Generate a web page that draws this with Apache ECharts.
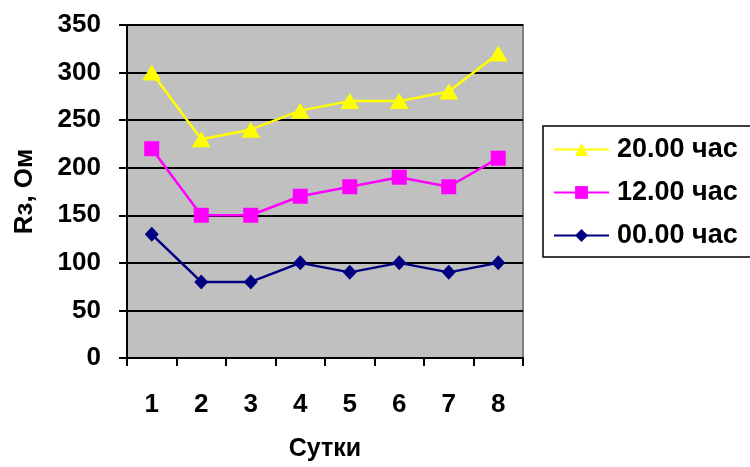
<!DOCTYPE html>
<html><head><meta charset="utf-8">
<script src="https://cdn.jsdelivr.net/npm/echarts@6/dist/echarts.min.js"></script>
<style>html,body{margin:0;padding:0;background:#fff}#c{width:750px;height:467px}</style>
</head><body><div id="c"></div>
<script>
const categories = ['1','2','3','4','5','6','7','8'];
const s20 = [300,230,240,260,270,270,280,320];
const s12 = [220,150,150,170,180,190,180,210];
const s00 = [130,80,80,100,90,100,90,100];
const seriesNames = ['20.00 час','12.00 час','00.00 час'];

const chart = echarts.init(document.getElementById('c'));
const font = 'Liberation Sans, Arial, sans-serif';
chart.setOption({
  animation:false,
  backgroundColor:'#fff',
  grid:{left:127,top:25,width:396,height:336,containLabel:false,show:true,backgroundColor:'#c0c0c0',borderColor:'#808080',borderWidth:2},
  legend:{
    orient:'vertical', left:543, top:126, width:300,
    padding:[10,40,8,10], itemGap:16,
    borderColor:'#000', borderWidth:1.5, backgroundColor:'#fff',
    itemWidth:55, itemHeight:16,
    textStyle:{fontFamily:font,fontWeight:'bold',fontSize:27,color:'#000',padding:[0,0,0,3]},
    data:seriesNames
  },
  xAxis:{
    type:'category', data:categories, boundaryGap:true,
    name:'Сутки', nameLocation:'middle', nameGap:79,
    nameTextStyle:{fontFamily:font,fontWeight:'bold',fontSize:25,color:'#000'},
    axisLine:{lineStyle:{color:'#000',width:2}},
    axisTick:{show:true,length:8,lineStyle:{color:'#000',width:2}},
    axisLabel:{fontFamily:font,fontWeight:'bold',fontSize:26,color:'#000',margin:34},
    splitLine:{show:false}
  },
  yAxis:{
    type:'value', min:0, max:350, interval:50,
    name:'Rз, Ом', nameLocation:'middle', nameGap:89, nameRotate:90,
    nameTextStyle:{fontFamily:font,fontWeight:'bold',fontSize:26,color:'#000'},
    axisLine:{show:true,lineStyle:{color:'#000',width:2}},
    axisTick:{show:true,length:8,lineStyle:{color:'#000',width:2}},
    axisLabel:{fontFamily:font,fontWeight:'bold',fontSize:26,color:'#000',margin:26},
    splitLine:{show:true,lineStyle:{color:'#000',width:2}}
  },
  series:[
    {name:seriesNames[0],type:'line',data:s20,symbol:'triangle',symbolSize:[19,16],
     itemStyle:{color:'#ffff00'},lineStyle:{color:'#ffff00',width:2.5}},
    {name:seriesNames[1],type:'line',data:s12,symbol:'rect',symbolSize:15,
     itemStyle:{color:'#ff00ff'},lineStyle:{color:'#ff00ff',width:2.5}},
    {name:seriesNames[2],type:'line',data:s00,symbol:'diamond',symbolSize:[14,15],
     itemStyle:{color:'#000080'},lineStyle:{color:'#000080',width:2.5}}
  ]
});
</script></body></html>
